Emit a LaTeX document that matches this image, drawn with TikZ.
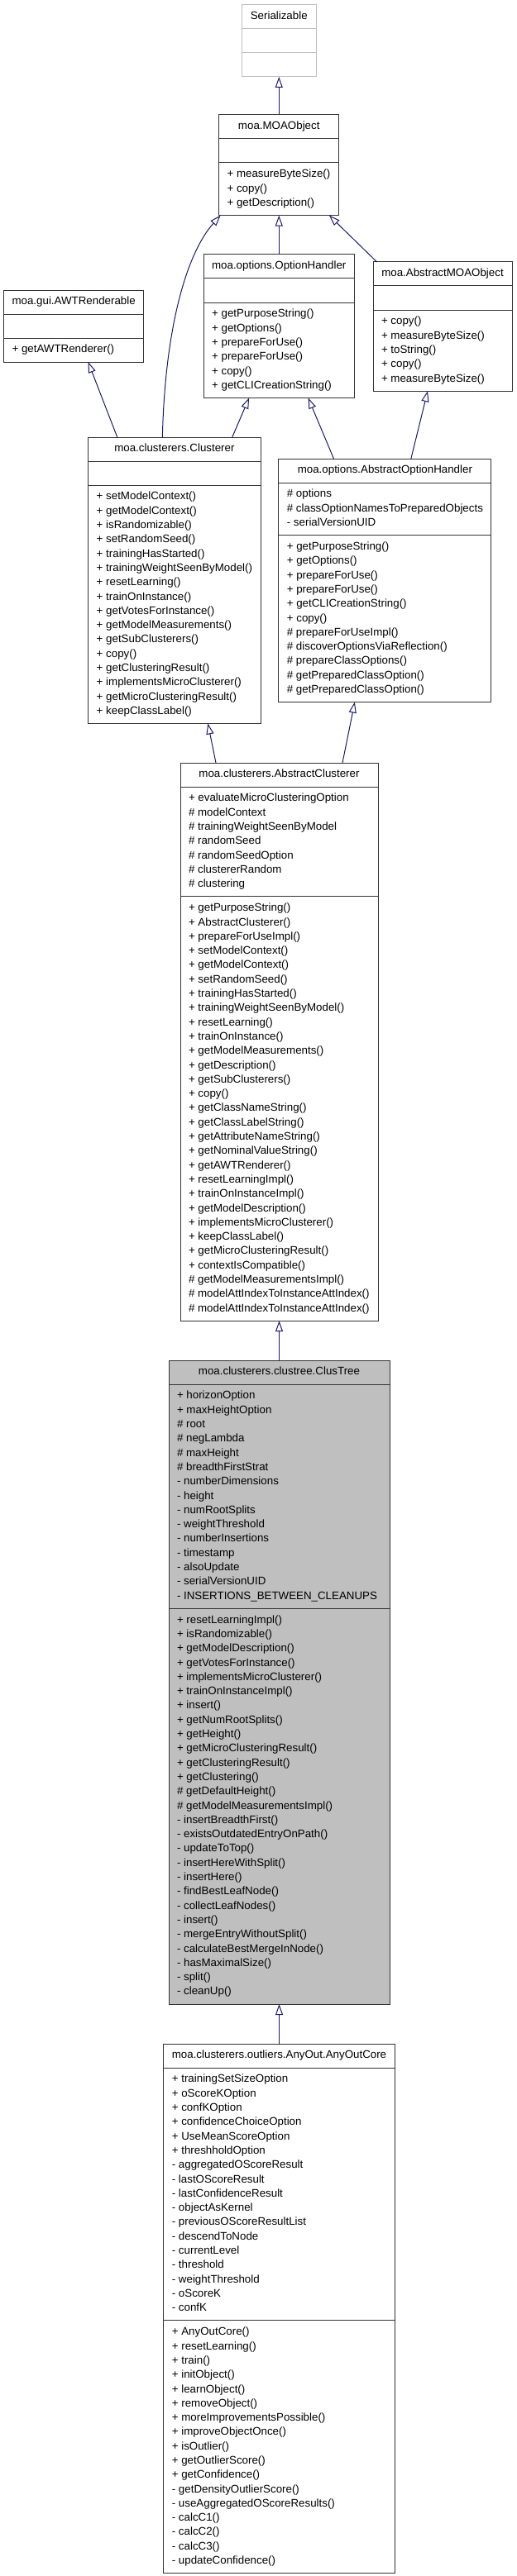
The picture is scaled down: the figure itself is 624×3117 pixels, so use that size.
\documentclass[tikz,border=0pt]{standalone}
\usepackage{fontspec}
\setmainfont{Liberation Sans}
\usetikzlibrary{shapes.multipart,arrows.meta}
\definecolor{edgeblue}{RGB}{25,25,112}
\definecolor{boxgray}{RGB}{191,191,191}
\newcommand{\umlfont}{\fontsize{13.33}{17.3}\selectfont}
\newcommand{\cpart}[1]{\strut#1\strut}
\begin{document}
\begin{tikzpicture}[x=1pt,y=-1pt,>={Triangle[open,length=13pt,width=9pt]},every node/.style={font=\umlfont},
  cls/.style={draw=black!80,line width=1pt,fill=white,rectangle split,rectangle split parts=3,rectangle split part align={center,left,left},align=left,anchor=north,inner xsep=10pt,inner ysep=5.35pt,outer sep=0pt},
  inh/.style={->,draw=edgeblue,line width=1pt}]
\fill[white] (0,0) rectangle (624,3117);
\useasboundingbox (0,0) rectangle (624,3117);
% classes
\node[cls,draw=boxgray,minimum width=89.5pt] (ser) at (337.25,6) {\cpart{Serializable}\nodepart{second}\cpart{}\nodepart{third}\cpart{}};
\node[cls,minimum width=145.4pt] (mobj) at (337.25,139) {\cpart{moa.MOAObject}\nodepart{second}\cpart{}\nodepart{third}\cpart{+ measureByteSize()\\+ copy()\\+ getDescription()}};
\node[cls,minimum width=168.7pt] (awt) at (89.15,351) {\cpart{moa.gui.AWTRenderable}\nodepart{second}\cpart{}\nodepart{third}\cpart{+ getAWTRenderer()}};
\node[cls,minimum width=179.5pt] (opth) at (337.25,308) {\cpart{moa.options.OptionHandler}\nodepart{second}\cpart{}\nodepart{third}\cpart{+ getPurposeString()\\+ getOptions()\\+ prepareForUse()\\+ prepareForUse()\\+ copy()\\+ getCLICreationString()}};
\node[cls,minimum width=168pt] (amobj) at (535,317) {\cpart{moa.AbstractMOAObject}\nodepart{second}\cpart{}\nodepart{third}\cpart{+ copy()\\+ measureByteSize()\\+ toString()\\+ copy()\\+ measureByteSize()}};
\node[cls,minimum width=207pt] (clus) at (210.9,529) {\cpart{moa.clusterers.Clusterer}\nodepart{second}\cpart{}\nodepart{third}\cpart{+ setModelContext()\\+ getModelContext()\\+ isRandomizable()\\+ setRandomSeed()\\+ trainingHasStarted()\\+ trainingWeightSeenByModel()\\+ resetLearning()\\+ trainOnInstance()\\+ getVotesForInstance()\\+ getModelMeasurements()\\+ getSubClusterers()\\+ copy()\\+ getClusteringResult()\\+ implementsMicroClusterer()\\+ getMicroClusteringResult()\\+ keepClassLabel()}};
\node[cls,minimum width=256pt] (aoh) at (465.4,555) {\cpart{moa.options.AbstractOptionHandler}\nodepart{second}\cpart{\# options\\\# classOptionNamesToPreparedObjects\\- serialVersionUID}\nodepart{third}\cpart{+ getPurposeString()\\+ getOptions()\\+ prepareForUse()\\+ prepareForUse()\\+ getCLICreationString()\\+ copy()\\\# prepareForUseImpl()\\\# discoverOptionsViaReflection()\\\# prepareClassOptions()\\\# getPreparedClassOption()\\\# getPreparedClassOption()}};
\node[cls,minimum width=239pt] (acl) at (337.5,923) {\cpart{moa.clusterers.AbstractClusterer}\nodepart{second}\cpart{+ evaluateMicroClusteringOption\\\# modelContext\\\# trainingWeightSeenByModel\\\# randomSeed\\\# randomSeedOption\\\# clustererRandom\\\# clustering}\nodepart{third}\cpart{+ getPurposeString()\\+ AbstractClusterer()\\+ prepareForUseImpl()\\+ setModelContext()\\+ getModelContext()\\+ setRandomSeed()\\+ trainingHasStarted()\\+ trainingWeightSeenByModel()\\+ resetLearning()\\+ trainOnInstance()\\+ getModelMeasurements()\\+ getDescription()\\+ getSubClusterers()\\+ copy()\\+ getClassNameString()\\+ getClassLabelString()\\+ getAttributeNameString()\\+ getNominalValueString()\\+ getAWTRenderer()\\+ resetLearningImpl()\\+ trainOnInstanceImpl()\\+ getModelDescription()\\+ implementsMicroClusterer()\\+ keepClassLabel()\\+ getMicroClusteringResult()\\+ contextIsCompatible()\\\# getModelMeasurementsImpl()\\\# modelAttIndexToInstanceAttIndex()\\\# modelAttIndexToInstanceAttIndex()}};
\node[cls,fill=boxgray,minimum width=267pt] (ct) at (337.5,1646) {\cpart{moa.clusterers.clustree.ClusTree}\nodepart{second}\cpart{+ horizonOption\\+ maxHeightOption\\\# root\\\# negLambda\\\# maxHeight\\\# breadthFirstStrat\\- numberDimensions\\- height\\- numRootSplits\\- weightThreshold\\- numberInsertions\\- timestamp\\- alsoUpdate\\- serialVersionUID\\- INSERTIONS\_BETWEEN\_CLEANUPS}\nodepart{third}\cpart{+ resetLearningImpl()\\+ isRandomizable()\\+ getModelDescription()\\+ getVotesForInstance()\\+ implementsMicroClusterer()\\+ trainOnInstanceImpl()\\+ insert()\\+ getNumRootSplits()\\+ getHeight()\\+ getMicroClusteringResult()\\+ getClusteringResult()\\+ getClustering()\\\# getDefaultHeight()\\\# getModelMeasurementsImpl()\\- insertBreadthFirst()\\- existsOutdatedEntryOnPath()\\- updateToTop()\\- insertHereWithSplit()\\- insertHere()\\- findBestLeafNode()\\- collectLeafNodes()\\- insert()\\- mergeEntryWithoutSplit()\\- calculateBestMergeInNode()\\- hasMaximalSize()\\- split()\\- cleanUp()}};
\node[cls,minimum width=279pt] (aoc) at (337.5,2473) {\cpart{moa.clusterers.outliers.AnyOut.AnyOutCore}\nodepart{second}\cpart{+ trainingSetSizeOption\\+ oScoreKOption\\+ confKOption\\+ confidenceChoiceOption\\+ UseMeanScoreOption\\+ threshholdOption\\- aggregatedOScoreResult\\- lastOScoreResult\\- lastConfidenceResult\\- objectAsKernel\\- previousOScoreResultList\\- descendToNode\\- currentLevel\\- threshold\\- weightThreshold\\- oScoreK\\- confK}\nodepart{third}\cpart{+ AnyOutCore()\\+ resetLearning()\\+ train()\\+ initObject()\\+ learnObject()\\+ removeObject()\\+ moreImprovementsPossible()\\+ improveObjectOnce()\\+ isOutlier()\\+ getOutlierScore()\\+ getConfidence()\\- getDensityOutlierScore()\\- useAggregatedOScoreResults()\\- calcC1()\\- calcC2()\\- calcC3()\\- updateConfidence()}};
% inheritance
\draw[inh] (mobj.north) -- (ser.south);
\draw[inh] (opth.north) -- (mobj.south);
\draw[inh] ([xshift=4.6pt]amobj.north west) -- ([xshift=-12pt]mobj.south east);
\draw[inh] ([xshift=89.6pt]clus.north west) .. controls +(3,-129) and +(-42,47) .. ([xshift=2pt]mobj.south west);
\draw[inh] ([xshift=35pt]clus.north west) -- ([xshift=102pt]awt.south west);
\draw[inh] ([xshift=174pt]clus.north west) -- ([xshift=55pt]opth.south west);
\draw[inh] ([xshift=66.6pt]aoh.north west) -- ([xshift=126.5pt]opth.south west);
\draw[inh] ([xshift=160pt]aoh.north west) -- ([xshift=66pt]amobj.south west);
\draw[inh] ([xshift=43pt]acl.north west) -- ([xshift=144.6pt]clus.south west);
\draw[inh] ([xshift=196pt]acl.north west) -- ([xshift=92pt]aoh.south west);
\draw[inh] (ct.north) -- (acl.south);
\draw[inh] (aoc.north) -- (ct.south);
\end{tikzpicture}
\end{document}
